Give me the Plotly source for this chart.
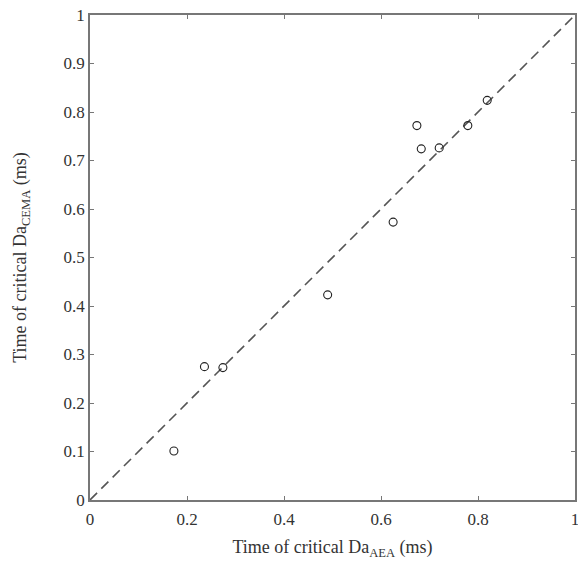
import plotly.graph_objects as go

x_aea = [0.173, 0.236, 0.274, 0.490, 0.625, 0.674, 0.683, 0.720, 0.779, 0.819]
y_cema = [0.101, 0.275, 0.273, 0.423, 0.573, 0.772, 0.724, 0.726, 0.772, 0.824]
diag = [0, 1]
x_ticks = [0, 0.2, 0.4, 0.6, 0.8, 1]
y_ticks = [0, 0.1, 0.2, 0.3, 0.4, 0.5, 0.6, 0.7, 0.8, 0.9, 1]

fig = go.Figure()
fig.add_trace(go.Scatter(x=diag, y=diag, mode="lines",
                         line=dict(color="#555555", width=1.6, dash="10px,6px"),
                         showlegend=False, hoverinfo="skip"))
fig.add_trace(go.Scatter(x=x_aea, y=y_cema, mode="markers",
                         marker=dict(symbol="circle-open", size=8, color="#222222",
                                     line=dict(width=1.1, color="#222222")),
                         showlegend=False))

fam = "Liberation Serif"
col = "#333333"
axis_common = dict(range=[0, 1], showgrid=False, zeroline=False, showline=True,
                   linecolor="#777777", linewidth=1.5, mirror="ticks",
                   ticks="inside", ticklen=4, tickcolor="#777777", tickwidth=1,
                   automargin=False, ticklabeloverflow="allow",
                   tickfont=dict(size=17, family=fam, color=col))
fig.update_xaxes(**axis_common, tickvals=x_ticks, ticklabelstandoff=3,
                 title=dict(text="Time of critical Da<sub>AEA</sub> (ms)",
                            font=dict(size=18, family=fam, color=col), standoff=12))
fig.update_yaxes(**axis_common, tickvals=y_ticks,
                 title=dict(text="Time of critical Da<sub>CEMA</sub> (ms)",
                            font=dict(size=18, family=fam, color=col), standoff=32))
fig.update_layout(width=578, height=565, margin=dict(l=90, r=3, t=15, b=65),
                  plot_bgcolor="white", paper_bgcolor="white",
                  font=dict(family=fam, color=col))
fig.write_html("out.html")
